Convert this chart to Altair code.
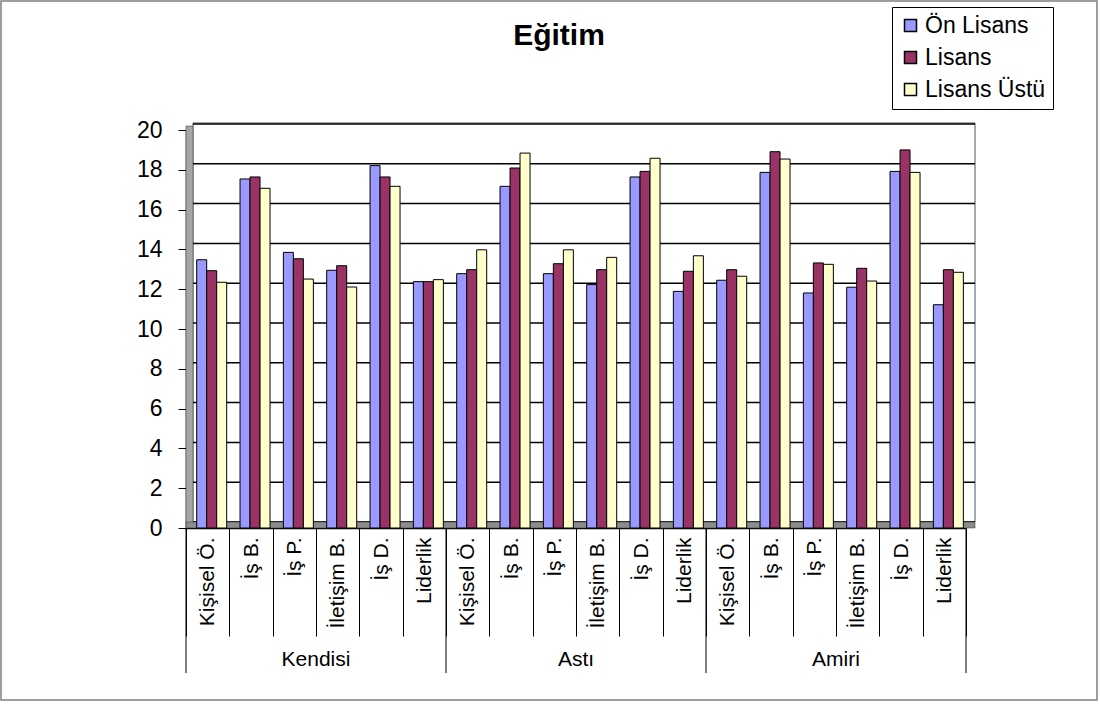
import altair as alt
import pandas as pd

groups = ["Kendisi", "Astı", "Amiri"]
categories = ["Kişisel Ö.", "İş B.", "İş P.", "İletişim B.", "İş D.", "Liderlik"]
series = ["Ön Lisans", "Lisans", "Lisans Üstü"]
colors = ["#9999FF", "#993366", "#FFFFCC"]

on_lisans = [13.48, 17.54, 13.85, 12.95, 18.21, 12.38,
             12.78, 17.17, 12.78, 12.23, 17.64, 11.89,
             12.45, 17.87, 11.81, 12.10, 17.92, 11.22]
lisans = [12.93, 17.64, 13.53, 13.18, 17.64, 12.38,
          12.98, 18.09, 13.28, 12.98, 17.92, 12.90,
          12.98, 18.91, 13.32, 13.05, 19.00, 12.98]
lisans_ustu = [12.35, 17.07, 12.51, 12.11, 17.17, 12.48,
               13.98, 18.84, 13.98, 13.60, 18.58, 13.68,
               12.65, 18.54, 13.25, 12.41, 17.87, 12.85]
y_ticks = list(range(0, 21, 2))
title_text = "Eğitim"

FONT = "Liberation Sans"

keys = [f"{g}|{c}" for g in groups for c in categories]
vals = {"Ön Lisans": on_lisans, "Lisans": lisans, "Lisans Üstü": lisans_ustu}
rows = []
for s in series:
    for i, k in enumerate(keys):
        rows.append({"key": k, "series": s, "value": vals[s][i]})
df = pd.DataFrame(rows)

W, H = 780, 398
xscale = alt.Scale(domain=keys, paddingInner=0, paddingOuter=0)
yscale = alt.Scale(domain=[0, 20])
one = pd.DataFrame({"a": [0]})

x_axis = alt.Axis(labelExpr="split(datum.label, '|')[1]", labelAngle=270,
                  labelAlign="right", labelBaseline="middle",
                  labelFontSize=21, labelFont=FONT, labelColor="black",
                  tickBand="extent", tickSize=108, tickColor="black", tickWidth=1,
                  labelPadding=-99, domainColor="black", domainWidth=1.5,
                  title=None, labelLimit=0)
y_axis = alt.Axis(values=y_ticks, labelFontSize=23, labelFont=FONT, labelColor="black",
                  tickSize=8, tickColor="black", domainColor="black", domainWidth=1.5,
                  labelPadding=16, title=None, grid=False)

border = alt.Chart(one).mark_rect(fillOpacity=0, stroke="#7f7f7f", strokeWidth=1.5).encode(
    x=alt.value(-185), x2=alt.value(911), y=alt.value(-129), y2=alt.value(570))

backwall = alt.Chart(one).mark_rect(fillOpacity=0, stroke="#555555", strokeWidth=1).encode(
    x=alt.value(7), x2=alt.value(789), y=alt.value(-7), y2=alt.value(392))

grid = alt.Chart(pd.DataFrame({"v": y_ticks})).mark_rule(color="black", strokeWidth=1.5, yOffset=-6).encode(
    y=alt.Y("v:Q", scale=yscale, axis=y_axis), x=alt.value(7), x2=alt.value(789))

leftwall = alt.Chart(one).mark_rect(fill="#A6A6A6", stroke="#333333", strokeWidth=0.5).encode(
    x=alt.value(0), x2=alt.value(7), y=alt.value(-4), y2=alt.value(397))

floor = alt.Chart(one).mark_rect(fill="#8C8C8C", stroke="#333333", strokeWidth=0.5).encode(
    x=alt.value(0), x2=alt.value(789), y=alt.value(392), y2=alt.value(398))

bars = alt.Chart(df).mark_bar(stroke="black", strokeWidth=1).encode(
    x=alt.X("key:N", scale=xscale, sort=keys, axis=x_axis),
    xOffset=alt.XOffset("series:N", sort=series,
                        scale=alt.Scale(domain=series, range=[10.7, 40.7],
                                        paddingInner=0, paddingOuter=0)),
    y=alt.Y("value:Q", scale=yscale, axis=y_axis),
    color=alt.Color("series:N", sort=series, title=None,
                    scale=alt.Scale(domain=series, range=colors),
                    legend=alt.Legend(orient="none", legendX=706, legendY=-123,
                                      direction="vertical", symbolType="square",
                                      symbolSize=144, symbolStrokeColor="black",
                                      symbolStrokeWidth=1.5, labelFontSize=23,
                                      labelFont=FONT, labelColor="black", padding=7,
                                      strokeColor="black", fillColor="white",
                                      rowPadding=8, labelOffset=3)),
)

first_keys = pd.DataFrame({"key": [f"{g}|{categories[0]}" for g in groups]})
last_key = pd.DataFrame({"key": [f"{groups[-1]}|{categories[-1]}"]})
grp_rules0 = alt.Chart(first_keys).mark_rule(color="black", strokeWidth=1).encode(
    x=alt.X("key:N", scale=xscale, sort=keys, bandPosition=0, axis=x_axis),
    y=alt.value(398), y2=alt.value(543))
grp_rules1 = alt.Chart(last_key).mark_rule(color="black", strokeWidth=1).encode(
    x=alt.X("key:N", scale=xscale, sort=keys, bandPosition=1, axis=x_axis),
    y=alt.value(398), y2=alt.value(543))

mid_keys = pd.DataFrame({"key": [f"{g}|{categories[2]}" for g in groups], "group": groups})
grp_text = alt.Chart(mid_keys).mark_text(fontSize=21, font=FONT, color="black",
                                         baseline="middle").encode(
    x=alt.X("key:N", scale=xscale, sort=keys, bandPosition=1, axis=x_axis),
    y=alt.value(530), text="group:N")

title = alt.Chart(pd.DataFrame({"t": [title_text]})).mark_text(
    fontSize=30, font=FONT, fontWeight="bold", color="black", baseline="middle").encode(
    x=alt.value(373), y=alt.value(-94), text="t:N")

chart = alt.layer(border, backwall, grid, leftwall, floor, bars,
                  grp_rules0, grp_rules1, grp_text, title).properties(
    width=W, height=H,
    autosize=alt.AutoSizeParams(type="none"),
    padding={"left": 186, "top": 130, "right": 134, "bottom": 176},
    background="white",
).configure_view(strokeWidth=0)

chart.save("out.html", embed_options={"renderer": "svg", "actions": False})
